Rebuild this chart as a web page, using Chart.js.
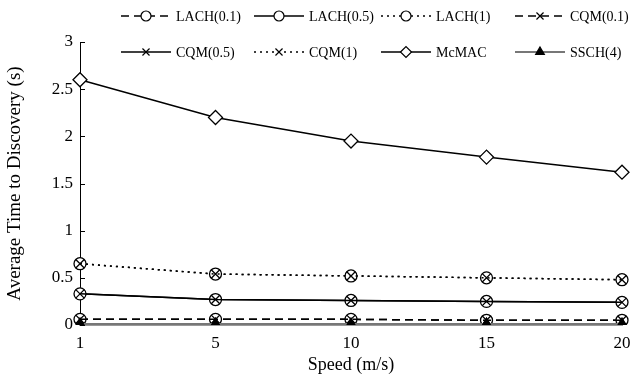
<!DOCTYPE html>
<html>
<head>
<meta charset="utf-8">
<script src="https://cdn.jsdelivr.net/npm/chart.js@4.4.1/dist/chart.umd.min.js"></script>
<style>
  html, body { margin: 0; padding: 0; background: #fff; }
  #wrap { width: 642px; height: 380px; }
</style>
</head>
<body>
<div id="wrap"><canvas id="chart" width="642" height="380"></canvas></div>
<script>
// data
const speeds = ["1", "5", "10", "15", "20"];
const lach01 = [0.06, 0.06, 0.06, 0.05, 0.05];
const lach05 = [0.33, 0.27, 0.26, 0.25, 0.24];
const lach1 = [0.65, 0.54, 0.52, 0.5, 0.48];
const cqm01 = [0.06, 0.06, 0.06, 0.05, 0.05];
const cqm05 = [0.33, 0.27, 0.26, 0.25, 0.24];
const cqm1 = [0.65, 0.54, 0.52, 0.5, 0.48];
const mcmac = [2.6, 2.2, 1.95, 1.78, 1.62];
const ssch4 = [0.01, 0.01, 0.01, 0.01, 0.01];
const yTicks = [0, 0.5, 1, 1.5, 2, 2.5, 3];

const FONT = "'Liberation Serif', 'Times New Roman', serif";
const dashed = [8, 5];
const dotted = [2, 4];

function series(label, data, opts) {
    return Object.assign({
        label: label,
        data: data,
        borderColor: "#000",
        borderWidth: 1.5,
        backgroundColor: "#fff",
        pointBorderColor: "#000",
        pointBorderWidth: 1.3,
        pointRadius: 6,
        tension: 0,
        fill: false,
    }, opts);
}

const datasets = [
    series("LACH(0.1)", lach01, { borderDash: dashed, pointStyle: "circle", order: 2 }),
    series("LACH(0.5)", lach05, { pointStyle: "circle", order: 2 }),
    series("LACH(1)", lach1, { borderDash: dotted, pointStyle: "circle", order: 2 }),
    series("CQM(0.1)", cqm01, { borderDash: dashed, pointStyle: "crossRot", order: 1 }),
    series("CQM(0.5)", cqm05, { pointStyle: "crossRot", order: 1 }),
    series("CQM(1)", cqm1, { borderDash: dotted, pointStyle: "crossRot", order: 1 }),
    series("McMAC", mcmac, { pointStyle: "rectRot", pointRadius: 7, order: 1 }),
    series("SSCH(4)", ssch4, { borderColor: "#777", borderWidth: 2, pointStyle: "triangle", backgroundColor: "#000", order: 0 }),
];

// legenda 2 baris x 4 kolom, sampel garis + marker
const legendCols = [121, 254, 381, 515];
const legendRows = [16, 52];
const legendPlugin = {
    id: "gridLegend",
    afterDraw(chart) {
        const ctx = chart.ctx;
        chart.data.datasets.forEach((ds, i) => {
            const x = legendCols[i % 4];
            const y = legendRows[Math.floor(i / 4)];
            ctx.save();
            ctx.strokeStyle = ds.borderColor;
            ctx.lineWidth = ds.borderWidth;
            ctx.setLineDash(ds.borderDash || []);
            ctx.beginPath();
            ctx.moveTo(x, y);
            ctx.lineTo(x + 50, y);
            ctx.stroke();
            ctx.setLineDash([]);
            ctx.fillStyle = ds.backgroundColor;
            ctx.strokeStyle = "#000";
            ctx.lineWidth = 1.2;
            Chart.helpers.drawPoint(ctx, {
                pointStyle: ds.pointStyle,
                radius: ds.pointStyle === "rectRot" ? 5.5 : 5,
                rotation: 0,
                borderWidth: 1.2,
            }, x + 25, y);
            ctx.fillStyle = "#000";
            ctx.font = "14px " + FONT;
            ctx.textBaseline = "middle";
            ctx.fillText(ds.label, x + 55, y + 1);
            ctx.restore();
        });

        // tick kecil ke dalam pada sumbu y
        const ys = chart.scales.y;
        const left = chart.chartArea.left;
        ctx.save();
        ctx.strokeStyle = "#000";
        ctx.lineWidth = 1;
        ys.ticks.forEach((t, i) => {
            const py = Math.round(ys.getPixelForTick(i)) + 0.5;
            ctx.beginPath();
            ctx.moveTo(left, py);
            ctx.lineTo(left + 5, py);
            ctx.stroke();
        });
        ctx.restore();
    },
};

new Chart(document.getElementById("chart").getContext("2d"), {
    type: "line",
    data: { labels: speeds, datasets: datasets },
    options: {
        responsive: false,
        animation: false,
        layout: { padding: { top: 42, right: 20, left: 0, bottom: 0 } },
        plugins: { legend: { display: false }, tooltip: { enabled: false } },
        scales: {
            x: {
                offset: false,
                grid: { display: false, drawTicks: false },
                border: { display: true, color: "#999", width: 2 },
                ticks: { color: "#000", font: { family: FONT, size: 17 }, padding: 8, maxRotation: 0 },
                title: { display: true, text: "Speed (m/s)", color: "#000", font: { family: FONT, size: 18 }, padding: { top: 2 } },
                afterFit: (s) => { s.height = 55; },
            },
            y: {
                min: 0,
                max: 3,
                afterBuildTicks: (s) => { s.ticks = yTicks.map((v) => ({ value: v })); },
                grid: { display: false, drawTicks: false },
                border: { display: true, color: "#000", width: 1 },
                ticks: { color: "#000", font: { family: FONT, size: 17 }, padding: 7, callback: (v) => String(v) },
                title: { display: true, text: "Average Time to Discovery (s)", color: "#000", font: { family: FONT, size: 19 }, padding: { bottom: 0 } },
                afterFit: (s) => { s.width = 80; },
            },
        },
    },
    plugins: [legendPlugin],
});
</script>
</body>
</html>
